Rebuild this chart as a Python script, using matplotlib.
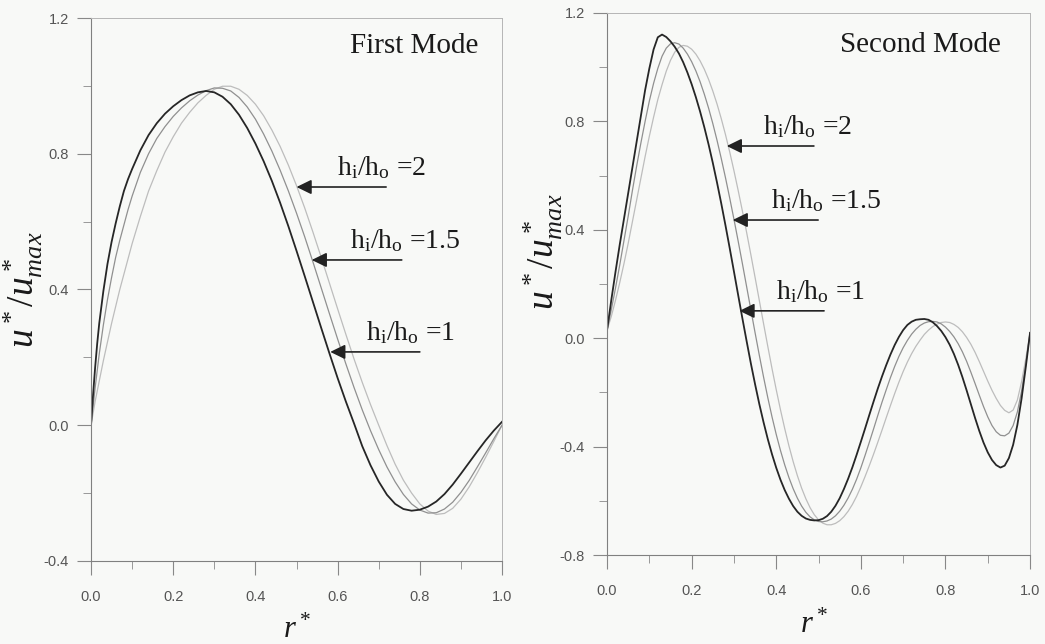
import numpy as np
import matplotlib
matplotlib.use("Agg")
import matplotlib.pyplot as plt
from matplotlib.ticker import MultipleLocator, FormatStrFormatter

plt.rcParams['mathtext.fontset'] = 'custom'
plt.rcParams['mathtext.rm'] = 'Liberation Serif'
plt.rcParams['mathtext.it'] = 'Liberation Serif:italic'

# ---------------- data ----------------
# First mode: sample positions r*
r1 = [0.0, 0.005, 0.01, 0.015, 0.02, 0.03, 0.04, 0.05, 0.06, 0.07, 0.08, 0.09, 0.10,
      0.12, 0.14, 0.16, 0.18, 0.20, 0.22, 0.24, 0.26, 0.28, 0.30, 0.32, 0.34, 0.36,
      0.38, 0.40, 0.42, 0.44, 0.46, 0.48, 0.50, 0.52, 0.54, 0.56, 0.58, 0.60, 0.62,
      0.64, 0.66, 0.68, 0.70, 0.72, 0.74, 0.76, 0.78, 0.80, 0.82, 0.84, 0.86, 0.88,
      0.90, 0.92, 0.94, 0.96, 0.98, 1.00]
m1_h1 = [0.0, 0.09, 0.17, 0.24, 0.30, 0.395, 0.475, 0.54, 0.595, 0.645, 0.69, 0.725, 0.755,
         0.81, 0.855, 0.89, 0.918, 0.94, 0.958, 0.972, 0.981,
         0.985, 0.981, 0.968, 0.946, 0.915, 0.876, 0.83, 0.778, 0.72, 0.656,
         0.587, 0.514, 0.439, 0.363, 0.287, 0.212, 0.139, 0.07, 0.005, -0.062,
         -0.118, -0.166, -0.205, -0.232, -0.247, -0.252, -0.249, -0.24, -0.225, -0.203,
         -0.175, -0.143, -0.11, -0.077, -0.045, -0.016, 0.01]
m1_h15 = [0.0, 0.055, 0.11, 0.16, 0.21, 0.295, 0.37, 0.435, 0.495, 0.545, 0.59, 0.635, 0.675,
          0.745, 0.80, 0.845, 0.88, 0.91, 0.935, 0.956, 0.973, 0.986,
          0.994, 0.993, 0.985, 0.966, 0.938, 0.902, 0.858, 0.808, 0.752, 0.691,
          0.625, 0.555, 0.481, 0.405, 0.329, 0.254, 0.181, 0.111, 0.045, -0.016,
          -0.072, -0.123, -0.167, -0.204, -0.232, -0.25, -0.259, -0.258, -0.247, -0.227,
          -0.198, -0.163, -0.123, -0.082, -0.04, 0.0]
m1_h2 = [0.0, 0.035, 0.07, 0.10, 0.13, 0.19, 0.245, 0.30, 0.35, 0.40, 0.445, 0.49, 0.535,
         0.615, 0.69, 0.75, 0.805, 0.85, 0.89, 0.922, 0.95, 0.972, 0.99,
         0.999, 0.999, 0.99, 0.972, 0.946, 0.912, 0.87, 0.822, 0.767, 0.706,
         0.64, 0.569, 0.495, 0.419, 0.343, 0.268, 0.195, 0.126, 0.061, 0.0,
         -0.06, -0.115, -0.162, -0.20, -0.232, -0.253, -0.263, -0.26, -0.245, -0.218,
         -0.182, -0.14, -0.095, -0.048, 0.0]

# Second mode: sampled every 0.01 in r*
r2 = np.round(np.arange(0, 101) * 0.01, 2)
m2_h1 = [0.03, 0.14, 0.245, 0.345, 0.44, 0.535, 0.63, 0.725, 0.82, 0.915,
         0.995, 1.065, 1.11, 1.12, 1.111, 1.095, 1.075, 1.05, 1.018, 0.98,
         0.937, 0.889, 0.836, 0.778, 0.715, 0.647, 0.574, 0.497, 0.416, 0.332,
         0.246, 0.159, 0.073, -0.011, -0.093, -0.17, -0.243, -0.31, -0.372, -0.428,
         -0.478, -0.522, -0.56, -0.592, -0.619, -0.64, -0.655, -0.665, -0.67, -0.672,
         -0.671, -0.666, -0.656, -0.64, -0.618, -0.59, -0.556, -0.518, -0.476, -0.43,
         -0.382, -0.333, -0.283, -0.234, -0.186, -0.141, -0.099, -0.06, -0.025, 0.005,
         0.03, 0.049, 0.061, 0.068, 0.07, 0.071, 0.068, 0.059, 0.045, 0.027,
         0.004, -0.024, -0.058, -0.098, -0.143, -0.192, -0.243, -0.294, -0.342, -0.385,
         -0.421, -0.449, -0.468, -0.477, -0.47, -0.442, -0.393, -0.32, -0.222, -0.105,
         0.02]
m2_h15 = [0.03, 0.105, 0.185, 0.27, 0.36, 0.45, 0.545, 0.635, 0.72, 0.80,
          0.875, 0.94, 0.995, 1.04, 1.07, 1.086, 1.09, 1.085, 1.07, 1.048,
          1.02, 0.986, 0.946, 0.90, 0.849, 0.792, 0.73, 0.663, 0.592, 0.517,
          0.439, 0.358, 0.275, 0.19, 0.105, 0.02, -0.063, -0.143, -0.219, -0.29,
          -0.355, -0.414, -0.467, -0.514, -0.555, -0.59, -0.619, -0.642, -0.659, -0.67,
          -0.676, -0.677, -0.674, -0.667, -0.655, -0.638, -0.616, -0.589, -0.557, -0.52,
          -0.478, -0.432, -0.384, -0.335, -0.285, -0.236, -0.19, -0.145, -0.104, -0.067,
          -0.035, -0.008, 0.015, 0.033, 0.047, 0.056, 0.061, 0.062, 0.06, 0.053,
          0.041, 0.025, 0.005, -0.02, -0.05, -0.085, -0.125, -0.167, -0.21, -0.252,
          -0.29, -0.322, -0.345, -0.358, -0.36, -0.35, -0.322, -0.272, -0.195, -0.095,
          0.02]
m2_h2 = [0.03, 0.08, 0.14, 0.205, 0.275, 0.35, 0.43, 0.51, 0.59, 0.67,
         0.745, 0.815, 0.88, 0.935, 0.985, 1.025, 1.055, 1.073, 1.08, 1.077,
         1.066, 1.048, 1.023, 0.992, 0.955, 0.912, 0.864, 0.81, 0.751, 0.687,
         0.618, 0.545, 0.469, 0.39, 0.308, 0.224, 0.139, 0.054, -0.03, -0.112,
         -0.19, -0.264, -0.333, -0.397, -0.455, -0.507, -0.553, -0.592, -0.625, -0.651,
         -0.67, -0.682, -0.688, -0.688, -0.683, -0.673, -0.658, -0.638, -0.613, -0.583,
         -0.548, -0.51, -0.47, -0.428, -0.384, -0.339, -0.293, -0.248, -0.204, -0.162,
         -0.123, -0.088, -0.057, -0.03, -0.007, 0.014, 0.03, 0.043, 0.052, 0.058,
         0.06, 0.058, 0.051, 0.04, 0.024, 0.003, -0.022, -0.052, -0.086, -0.122,
         -0.158, -0.192, -0.222, -0.248, -0.266, -0.275, -0.265, -0.228, -0.16, -0.075,
         0.02]

ratio_labels = ['2', '1.5', '1']
line_colors = ['#bdbdbd', '#909090', '#262626']
line_widths = [0.9, 0.9, 1.3]

xticks = [0.0, 0.2, 0.4, 0.6, 0.8, 1.0]
yticks1 = [-0.4, 0.0, 0.4, 0.8, 1.2]
yticks2 = [-0.8, -0.4, 0.0, 0.4, 0.8, 1.2]

# annotation placements (data coords): arrow tip, tail x, text left/baseline
ann1 = [((0.50, 0.702), 0.718, (0.598, 0.738)),
        ((0.537, 0.487), 0.756, (0.630, 0.522)),
        ((0.582, 0.216), 0.80, (0.668, 0.251))]
ann2 = [((0.283, 0.709), 0.489, (0.369, 0.753)),
        ((0.297, 0.436), 0.499, (0.388, 0.480)),
        ((0.313, 0.101), 0.513, (0.400, 0.145))]

bg = '#f8f9f7'
fig = plt.figure(figsize=(10.45, 6.44), dpi=100, facecolor=bg)
ax1 = fig.add_axes([0.0871, 0.129, 0.3933, 0.843])
ax2 = fig.add_axes([0.5809, 0.138, 0.4048, 0.842])

def style(ax, yticks, ylim):
    ax.set_facecolor(bg)
    ax.set_xlim(0, 1.0)
    ax.set_ylim(*ylim)
    ax.set_xticks(xticks)
    ax.set_yticks(yticks)
    ax.xaxis.set_minor_locator(MultipleLocator(0.1))
    ax.yaxis.set_minor_locator(MultipleLocator(0.2))
    ax.xaxis.set_major_formatter(FormatStrFormatter('%.1f'))
    ax.yaxis.set_major_formatter(FormatStrFormatter('%.1f'))
    ax.tick_params(which='major', direction='out', length=10, width=0.8, color='#888',
                   labelcolor='#555', labelsize=10.5, labelfontfamily='Liberation Sans')
    ax.tick_params(which='minor', direction='out', length=6, width=0.7, color='#999')
    ax.tick_params(axis='x', which='major', pad=11)
    ax.tick_params(axis='y', which='major', pad=6)
    for s in ['left', 'bottom']:
        ax.spines[s].set_color('#808080')
        ax.spines[s].set_linewidth(0.8)
    for s in ['top', 'right']:
        ax.spines[s].set_color('#b5b5b5')
        ax.spines[s].set_linewidth(0.7)

style(ax1, yticks1, (-0.4, 1.2))
style(ax2, yticks2, (-0.8, 1.2))

for ys, c, lw in zip([m1_h2, m1_h15, m1_h1], line_colors, line_widths):
    ax1.plot(r1, ys, color=c, lw=lw, solid_joinstyle='round')
for ys, c, lw in zip([m2_h2, m2_h15, m2_h1], line_colors, line_widths):
    ax2.plot(r2, ys, color=c, lw=lw, solid_joinstyle='round')

def annotate(ax, anns):
    for (tip, tailx, tpos), lab in zip(anns, ratio_labels):
        ax.annotate('', xy=tip, xytext=(tailx, tip[1]),
                    arrowprops=dict(arrowstyle='-|>,head_length=0.45,head_width=0.22',
                                    mutation_scale=20, color='#222', lw=1.2,
                                    shrinkA=0, shrinkB=0))
        ax.text(tpos[0], tpos[1], r'h$_\mathregular{i}$/h$_\mathregular{o}$ =' + lab,
                family='Liberation Serif', fontsize=20, ha='left', va='baseline',
                color='#1a1a1a')

annotate(ax1, ann1)
annotate(ax2, ann2)

ax1.text(0.63, 1.117, 'First Mode', family='Liberation Serif', fontsize=21,
         ha='left', va='center', color='#1a1a1a')
ax2.text(0.55, 1.082, 'Second Mode', family='Liberation Serif', fontsize=21,
         ha='left', va='center', color='#1a1a1a')

for ax, lx, ly, xx, xy in [(ax1, -0.112, 0.5, 0.50, -0.10), (ax2, -0.10, 0.56, 0.49, -0.10)]:
    ax.set_ylabel(r'$u^*/u^*_{max}$', fontsize=27, color='#1a1a1a')
    ax.yaxis.set_label_coords(lx, ly)
    ax.set_xlabel(r'$r^*$', fontsize=22, color='#1a1a1a')
    ax.xaxis.set_label_coords(xx, xy)

fig.savefig('out.png', dpi=100, facecolor=bg)
